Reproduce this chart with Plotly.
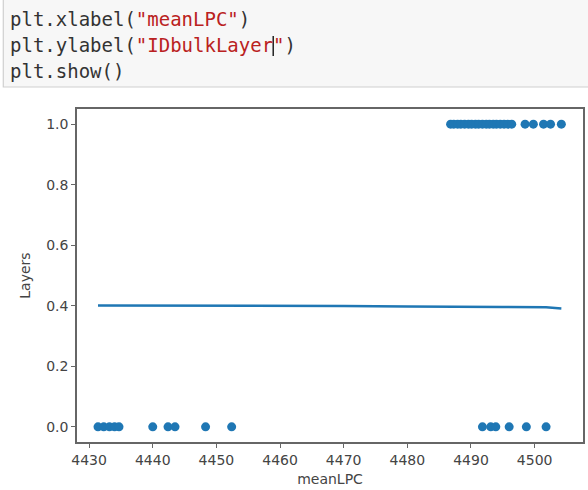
import plotly.graph_objects as go

# ---- data ----
x_zero = [4431.4, 4432.3, 4433.2, 4434.0, 4434.7, 4440.0, 4442.4, 4443.5,
          4448.3, 4452.4, 4491.8, 4493.1, 4493.9, 4496.0, 4498.7, 4501.8]
y_zero = [0.0] * len(x_zero)

x_one = [4486.8, 4487.3, 4487.9, 4488.4, 4489.0, 4489.6, 4490.1, 4490.7,
         4491.2, 4491.8, 4492.4, 4492.9, 4493.5, 4494.0, 4494.6, 4495.2,
         4495.8, 4496.4, 4498.5, 4499.8, 4501.4, 4502.5, 4504.2]
y_one = [1.0] * len(x_one)

line_x = [4431.4, 4440.0, 4450.0, 4460.0, 4470.0, 4480.0, 4487.0, 4495.0, 4501.8, 4504.2]
line_y = [0.401, 0.401, 0.399, 0.399, 0.399, 0.398, 0.396, 0.396, 0.395, 0.391]

x_ticks = [4430, 4440, 4450, 4460, 4470, 4480, 4490, 4500]
y_ticks = [0.0, 0.2, 0.4, 0.6, 0.8, 1.0]
y_tick_labels = ["0.0", "0.2", "0.4", "0.6", "0.8", "1.0"]

code_lines = [
    'plt.xlabel(<span style="color:#BA2121">"meanLPC"</span>)',
    'plt.ylabel(<span style="color:#BA2121">"IDbulkLayer"</span>)',
    'plt.show()',
]

BLUE = "#1f77b4"
W, H = 588, 490
ML, MR, MT, MB = 77, 3, 109, 48
PW, PH = W - ML - MR, H - MT - MB


def px(xp):
    return (xp - ML) / PW


def py(yp):
    return (H - MB - yp) / PH


fig = go.Figure()
fig.add_trace(go.Scatter(x=line_x, y=line_y, mode="lines",
                         line=dict(color=BLUE, width=2.5), hoverinfo="skip"))
fig.add_trace(go.Scatter(x=x_zero, y=y_zero, mode="markers",
                         marker=dict(color=BLUE, size=9, line=dict(width=0))))
fig.add_trace(go.Scatter(x=x_one, y=y_one, mode="markers",
                         marker=dict(color=BLUE, size=9, line=dict(width=0))))

shapes = [
    dict(type="rect", xref="paper", yref="paper",
         x0=px(3), x1=px(600), y0=py(87), y1=py(-5),
         fillcolor="#f7f7f7", line=dict(color="#cfcfcf", width=1.2), layer="below"),
    dict(type="line", xref="paper", yref="paper",
         x0=px(274), x1=px(274), y0=py(56), y1=py(36),
         line=dict(color="#222", width=1.5)),
]

annotations = []
for i, t in enumerate(code_lines):
    annotations.append(dict(
        text=t, xref="paper", yref="paper", x=px(8), y=py(19 + 26 * i),
        xanchor="left", yanchor="middle", showarrow=False,
        font=dict(family="DejaVu Sans Mono", size=19, color="#333333")))

fig.update_layout(
    width=W, height=H,
    margin=dict(l=ML, r=MR, t=MT, b=MB),
    paper_bgcolor="white", plot_bgcolor="white",
    showlegend=False,
    font=dict(family="DejaVu Sans", color="#333333"),
    shapes=shapes, annotations=annotations,
    xaxis=dict(range=[4428.1, 4507.6], tickvals=x_ticks,
               showgrid=False, zeroline=False,
               showline=True, mirror=True, linecolor="#666666", linewidth=1.5,
               ticks="outside", ticklen=4, tickwidth=1.2, tickcolor="#666666",
               tickfont=dict(size=14, color="#444444"),
               title=dict(text="meanLPC", font=dict(size=14, color="#444444"), standoff=8)),
    yaxis=dict(range=[-0.05, 1.05], tickvals=y_ticks, ticktext=y_tick_labels,
               showgrid=False, zeroline=False,
               showline=True, mirror=True, linecolor="#666666", linewidth=1.5,
               ticks="outside", ticklen=4, tickwidth=1.2, tickcolor="#666666",
               tickfont=dict(size=14, color="#444444"),
               title=dict(text="Layers", font=dict(size=14, color="#444444"), standoff=12)),
)

fig.write_html("out.html", config={"displayModeBar": False},
               post_script="document.body.style.margin='0px';document.body.style.overflow='hidden';")
